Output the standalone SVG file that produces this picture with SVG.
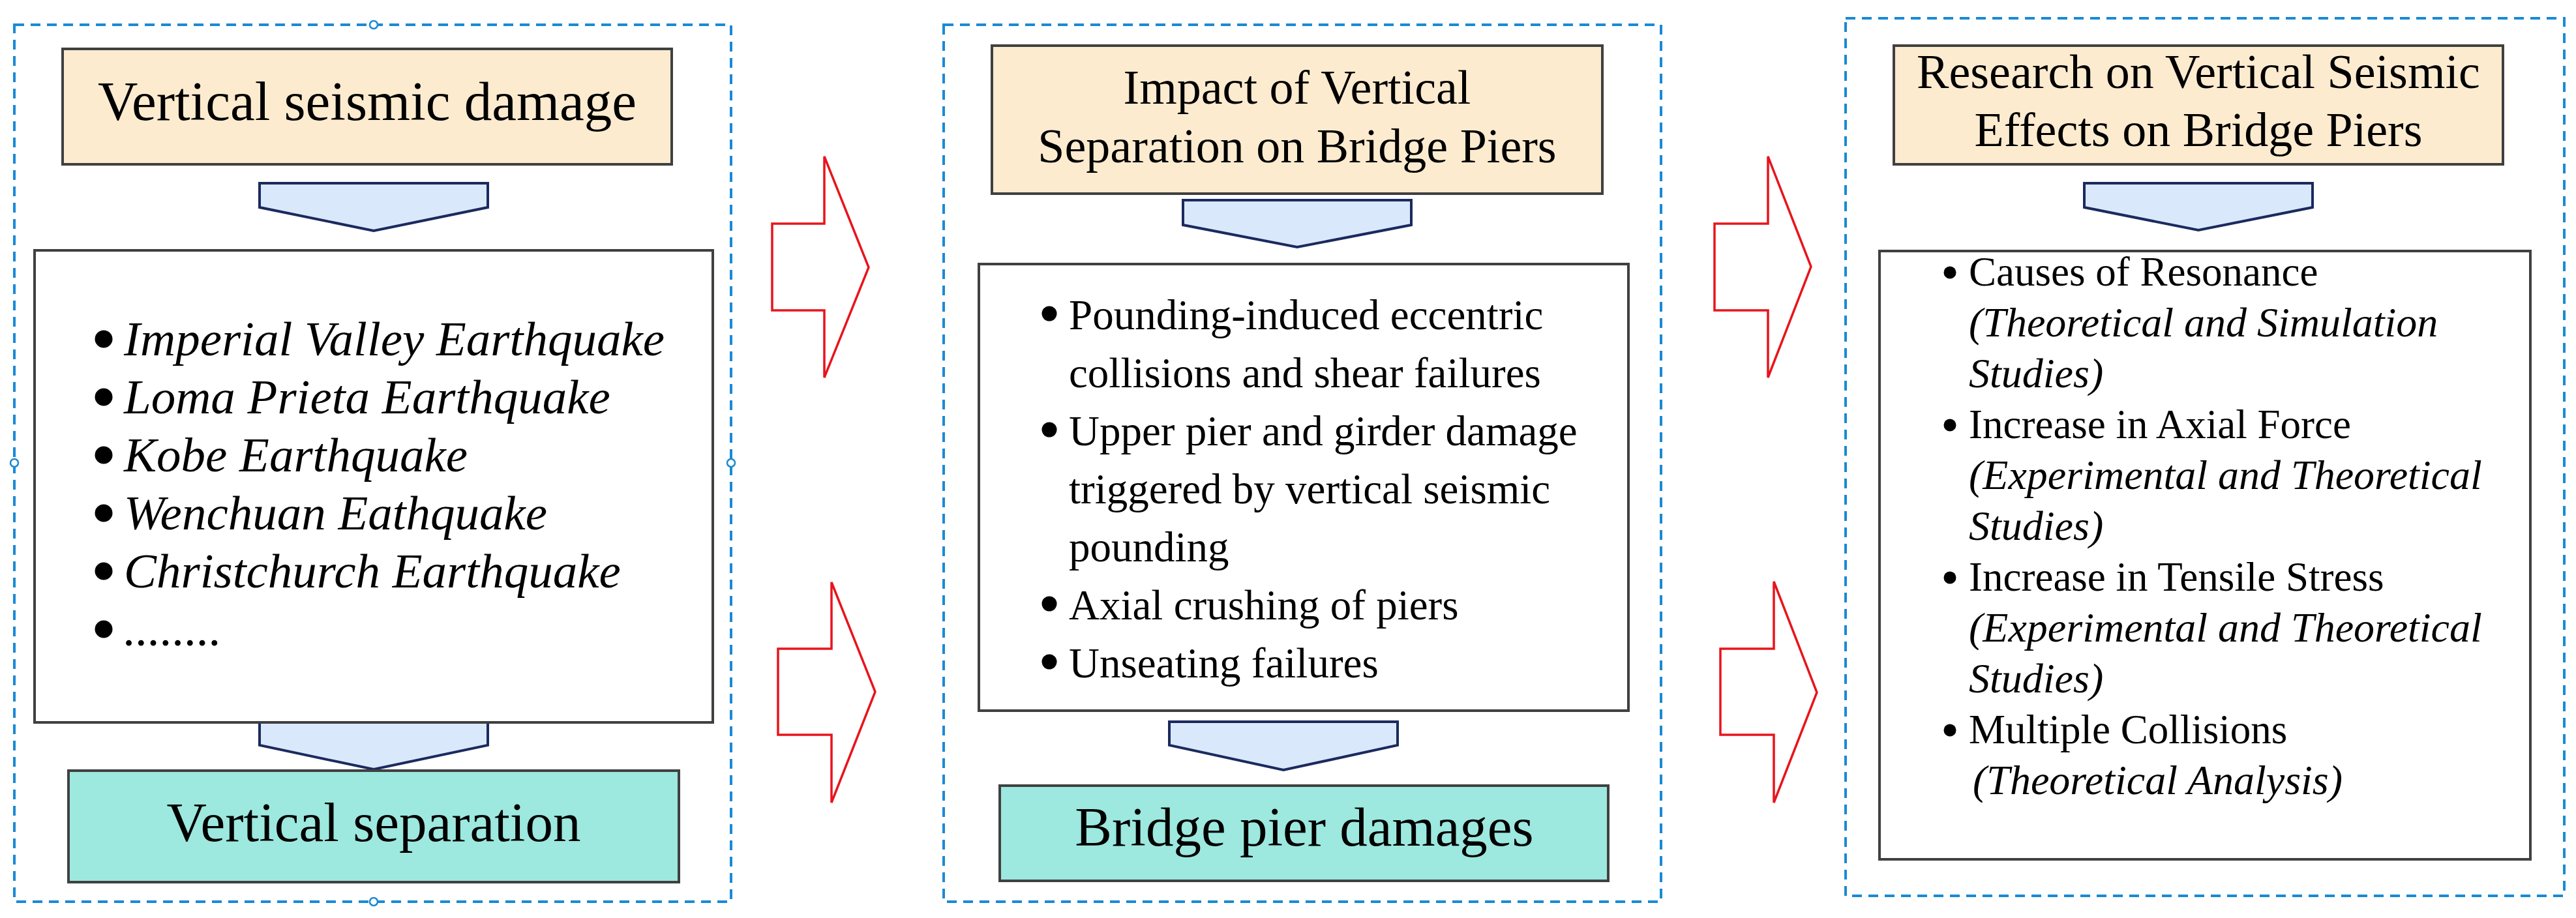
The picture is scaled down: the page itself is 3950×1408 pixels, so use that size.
<svg xmlns="http://www.w3.org/2000/svg" width="3950" height="1408" viewBox="0 0 3950 1408">
<style>
.panel{fill:none;stroke:#1A8AD4;stroke-width:4;stroke-dasharray:15 10}
.handle{fill:#fff;stroke:#1A8AD4;stroke-width:2.5}
.title{fill:#FDEBCF;stroke:#404040;stroke-width:4}
.list{fill:#fff;stroke:#404040;stroke-width:4}
.result{fill:#9DE8DF;stroke:#404040;stroke-width:4}
.chev{fill:#DAE8FC;stroke:#1B2A5E;stroke-width:4;stroke-linejoin:miter}
.red{fill:#fff;stroke:#E8141C;stroke-width:3.5}
.dot{fill:#000}
text{font-family:"Liberation Serif","Times New Roman",serif;fill:#000}
.t85{font-size:85px;text-anchor:middle}
.t74{font-size:74px;text-anchor:middle}
.it1{font-size:75px;font-style:italic}
.r2{font-size:65px}
.r3{font-size:63px}
.i3{font-size:64px;font-style:italic}
</style>

<g id="connectors">
<path class="chev" d="M398,281 H748 V318 L573,354 L398,318 Z"/>
<path class="chev" d="M398,1108 H748 V1143 L573,1180 L398,1143 Z"/>
<path class="chev" d="M1814,307 H2164 V345 L1989,379 L1814,345 Z"/>
<path class="chev" d="M1793,1107 H2143 V1143 L1968,1181 L1793,1143 Z"/>
<path class="chev" d="M3196,281 H3546 V318 L3371,353 L3196,318 Z"/>
<path class="red" d="M1184,343 H1264 V240 L1332,410 L1264,579 V476 H1184 Z"/>
<path class="red" d="M1193,995 H1275 V893 L1342,1061 L1275,1231 V1127 H1193 Z"/>
<path class="red" d="M2629,343 H2711 V240 L2777,409 L2711,579 V476 H2629 Z"/>
<path class="red" d="M2638,995 H2720 V892 L2786,1062 L2720,1231 V1127 H2638 Z"/>
</g>

<g id="panel1">
<rect class="panel" x="22" y="38" width="1099" height="1345"/>
<circle class="handle" cx="573" cy="38" r="6"/>
<circle class="handle" cx="573" cy="1383" r="6"/>
<circle class="handle" cx="22" cy="710" r="6"/>
<circle class="handle" cx="1121" cy="710" r="6"/>
</g>

<g id="vertical-seismic-damage">
<rect class="title" x="96" y="75" width="934" height="177"/>
<text class="t85" x="563" y="184">Vertical seismic damage</text>
</g>

<g id="earthquake-list">
<rect class="list" x="53" y="384" width="1040" height="724"/>
<circle class="dot" cx="159" cy="520" r="13.5"/>
<circle class="dot" cx="159" cy="609" r="13.5"/>
<circle class="dot" cx="159" cy="698" r="13.5"/>
<circle class="dot" cx="159" cy="787" r="13.5"/>
<circle class="dot" cx="159" cy="876" r="13.5"/>
<circle class="dot" cx="159" cy="965" r="13.5"/>
<text class="it1" x="190" y="545">Imperial Valley Earthquake</text>
<text class="it1" x="190" y="634">Loma Prieta Earthquake</text>
<text class="it1" x="190" y="723">Kobe Earthquake</text>
<text class="it1" x="190" y="812">Wenchuan Eathquake</text>
<text class="it1" x="190" y="901">Christchurch Earthquake</text>
<text class="it1" x="190" y="990">........</text>
</g>

<g id="vertical-separation">
<rect class="result" x="105" y="1182" width="936" height="171"/>
<text class="t85" x="573" y="1290">Vertical separation</text>
</g>

<g id="panel2">
<rect class="panel" x="1447" y="38" width="1100" height="1345"/>
</g>

<g id="impact-title">
<rect class="title" x="1521" y="70" width="936" height="227"/>
<text class="t74" x="1989" y="159">Impact of Vertical</text>
<text class="t74" x="1989" y="249">Separation on Bridge Piers</text>
</g>

<g id="damage-list">
<rect class="list" x="1501" y="405" width="996" height="685"/>
<circle class="dot" cx="1609" cy="481" r="11.5"/>
<circle class="dot" cx="1609" cy="659" r="11.5"/>
<circle class="dot" cx="1609" cy="926" r="11.5"/>
<circle class="dot" cx="1609" cy="1015" r="11.5"/>
<text class="r2" x="1639" y="505">Pounding-induced eccentric</text>
<text class="r2" x="1639" y="594">collisions and shear failures</text>
<text class="r2" x="1639" y="683">Upper pier and girder damage</text>
<text class="r2" x="1639" y="772">triggered by vertical seismic</text>
<text class="r2" x="1639" y="861">pounding</text>
<text class="r2" x="1639" y="950">Axial crushing of piers</text>
<text class="r2" x="1639" y="1039">Unseating failures</text>
</g>

<g id="bridge-pier-damages">
<rect class="result" x="1533" y="1205" width="933" height="146"/>
<text class="t85" x="2000" y="1297">Bridge pier damages</text>
</g>

<g id="panel3">
<rect class="panel" x="2830" y="28" width="1102" height="1346"/>
</g>

<g id="research-title">
<rect class="title" x="2904" y="70" width="934" height="182"/>
<text class="t74" x="3371" y="135">Research on Vertical Seismic</text>
<text class="t74" x="3371" y="224">Effects on Bridge Piers</text>
</g>

<g id="research-list">
<rect class="list" x="2882" y="385" width="998" height="933"/>
<circle class="dot" cx="2990" cy="418" r="9.5"/>
<circle class="dot" cx="2990" cy="652" r="9.5"/>
<circle class="dot" cx="2990" cy="886" r="9.5"/>
<circle class="dot" cx="2990" cy="1120" r="9.5"/>
<text class="r3" x="3019" y="438">Causes of Resonance</text>
<text class="i3" x="3019" y="516">(Theoretical and Simulation</text>
<text class="i3" x="3019" y="594">Studies)</text>
<text class="r3" x="3019" y="672">Increase in Axial Force</text>
<text class="i3" x="3019" y="750">(Experimental and Theoretical</text>
<text class="i3" x="3019" y="828">Studies)</text>
<text class="r3" x="3019" y="906">Increase in Tensile Stress</text>
<text class="i3" x="3019" y="984">(Experimental and Theoretical</text>
<text class="i3" x="3019" y="1062">Studies)</text>
<text class="r3" x="3019" y="1140">Multiple Collisions</text>
<text class="i3" x="3025" y="1218">(Theoretical Analysis)</text>
</g>
</svg>
